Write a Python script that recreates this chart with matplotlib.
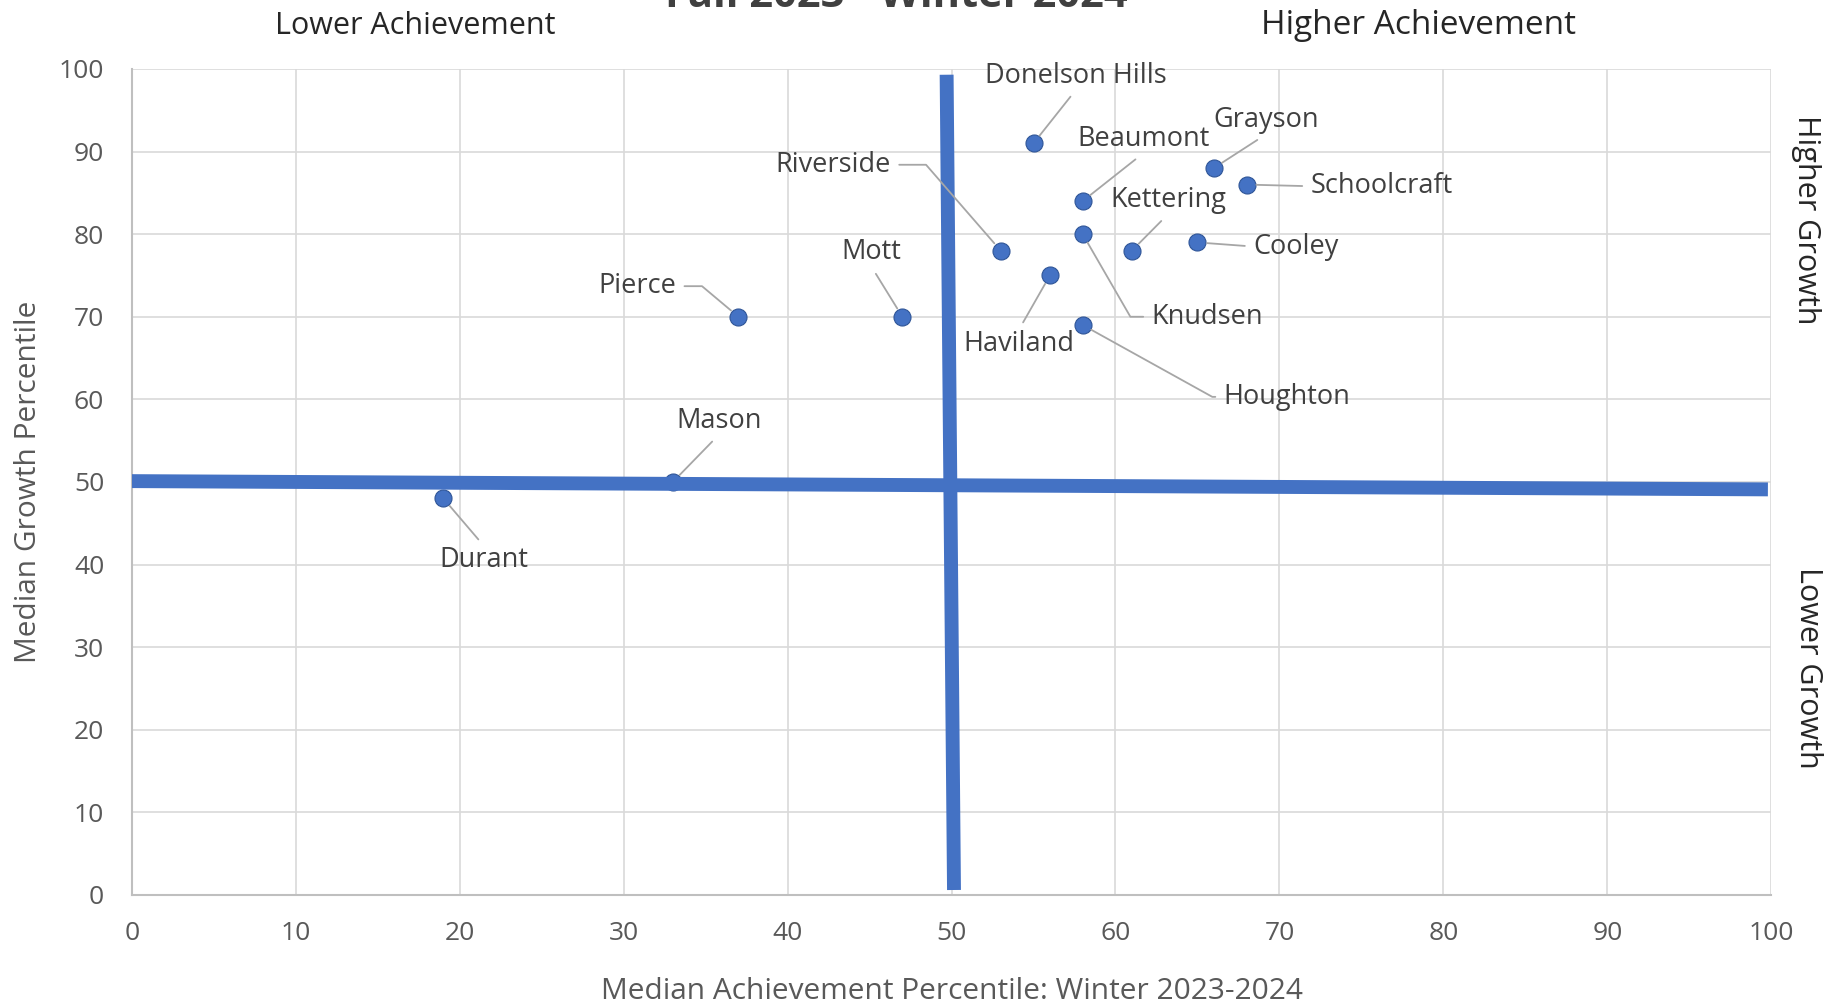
import matplotlib.pyplot as plt

plt.rcParams['font.family'] = ['Open Sans', 'DejaVu Sans']

# School medians: achievement (x) vs growth (y)
schools = ['Donelson Hills', 'Beaumont', 'Grayson', 'Schoolcraft', 'Kettering',
           'Cooley', 'Knudsen', 'Riverside', 'Haviland', 'Houghton', 'Mott',
           'Pierce', 'Mason', 'Durant']
achievement = [55, 58, 66, 68, 61, 65, 58, 53, 56, 58, 47, 37, 33, 19]
growth = [91, 84, 88, 86, 78, 79, 80, 78, 75, 69, 70, 70, 50, 48]

# label placement: (x, y, ha, relpos, connection style)
label_pos = {
    'Donelson Hills': (57.6, 99.2, 'center', (0.5, 0.0), 'arc3'),
    'Beaumont': (61.7, 91.5, 'center', (0.5, 0.0), 'arc3'),
    'Grayson': (69.2, 93.8, 'center', (0.5, 0.0), 'arc3'),
    'Schoolcraft': (71.9, 85.8, 'left', (0.0, 0.5), 'arc3'),
    'Kettering': (63.2, 84.1, 'center', (0.5, 0.0), 'arc3'),
    'Cooley': (68.4, 78.5, 'left', (0.0, 0.5), 'arc3'),
    'Knudsen': (62.2, 70.0, 'left', (0.0, 0.5), 'angle,angleA=0,angleB=120,rad=0'),
    'Riverside': (46.3, 88.4, 'right', (1.0, 0.5), 'angle,angleA=0,angleB=131,rad=0'),
    'Haviland': (54.1, 66.7, 'center', (0.5, 1.0), 'arc3'),
    'Houghton': (66.6, 60.3, 'left', (0.0, 0.5), 'angle,angleA=0,angleB=151,rad=0'),
    'Mott': (45.1, 77.8, 'center', (0.5, 0.0), 'arc3'),
    'Pierce': (33.2, 73.7, 'right', (1.0, 0.5), 'angle,angleA=0,angleB=140,rad=0'),
    'Mason': (35.8, 57.4, 'center', (0.5, 0.0), 'arc3'),
    'Durant': (21.5, 40.5, 'center', (0.5, 1.0), 'arc3'),
}

# quadrant divider lines
vline_x = [49.7, 50.15]
vline_y = [99.3, 0.6]
hline_x = [0, 99.8]
hline_y = [50.1, 49.1]

blue = '#4472C4'
text_gray = '#595959'
label_gray = '#404040'

fig = plt.figure(figsize=(18.32, 10.05), dpi=100)
ax = fig.add_axes([0.072, 0.1095, 0.8948, 0.8219])

ax.set_xlim(0, 100)
ax.set_ylim(0, 100)
ax.set_xticks(range(0, 101, 10))
ax.set_yticks(range(0, 101, 10))
ax.grid(True, color='#d9d9d9', linewidth=1.2)
ax.set_axisbelow(True)
for side in ['top', 'right']:
    ax.spines[side].set_visible(False)
for side in ['left', 'bottom']:
    ax.spines[side].set_color('#bfbfbf')
    ax.spines[side].set_linewidth(1.5)
ax.tick_params(length=0, labelsize=19, labelcolor=text_gray)
ax.tick_params(axis='y', pad=20)
ax.tick_params(axis='x', pad=19)

ax.scatter(achievement, growth, s=150, color=blue, edgecolor='#2f5597',
           linewidth=0.8, zorder=3)

ax.plot(vline_x, vline_y, color=blue, linewidth=10, solid_capstyle='butt', zorder=4)
ax.plot(hline_x, hline_y, color=blue, linewidth=10, solid_capstyle='butt', zorder=4)

for name, x, y in zip(schools, achievement, growth):
    tx, ty, ha, rel, conn = label_pos[name]
    ax.annotate(name, xy=(x, y), xytext=(tx, ty), ha=ha, va='center',
                fontsize=19.5, color=label_gray, zorder=6,
                arrowprops=dict(arrowstyle='-', color='#a6a6a6', linewidth=1.3,
                                relpos=rel, shrinkA=4, shrinkB=7,
                                connectionstyle=conn))

ax.set_xlabel('Median Achievement Percentile: Winter 2023-2024', fontsize=21.5,
              color=text_gray, labelpad=22)
ax.set_ylabel('Median Growth Percentile', fontsize=21.5, color=text_gray,
              labelpad=11)

fig.text(0.489, 1.003, 'Fall 2023 - Winter 2024', ha='center', va='center',
         fontsize=30, fontweight='bold', color=label_gray)
fig.text(0.2265, 0.974, 'Lower Achievement', ha='center', va='center',
         fontsize=22, color='#262626')
fig.text(0.7745, 0.975, 'Higher Achievement', ha='center', va='center',
         fontsize=24, color='#262626')
fig.text(0.986, 0.781, 'Higher Growth', ha='center', va='center',
         rotation=-90, fontsize=22, color='#262626')
fig.text(0.987, 0.335, 'Lower Growth', ha='center', va='center',
         rotation=-90, fontsize=22, color='#262626')

fig.savefig('out.png', dpi=100)
